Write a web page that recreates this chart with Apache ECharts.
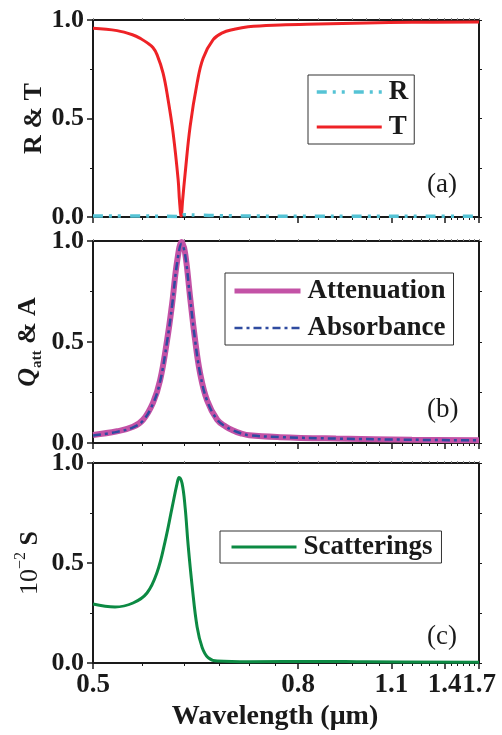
<!DOCTYPE html>
<html><head><meta charset="utf-8">
<script src="https://cdn.jsdelivr.net/npm/echarts@6/dist/echarts.min.js"></script>
<style>html,body{margin:0;padding:0;background:#fff}#c{width:502px;height:735px}</style>
</head><body><div id="c"></div>
<script>
// ---- data (wavelength in µm) ----
const wlT  = [0.500,0.523,0.5395,0.548,0.5548,0.5615,0.5664,0.5735,0.5796,0.5858,0.5922,0.594,0.5961,0.598,0.6013,0.608,0.6176,0.6261,0.6408,0.655,0.6724,0.6981,0.76,0.85,1.0,1.2,1.7];
const valT = [0.958,0.946,0.924,0.905,0.885,0.860,0.823,0.730,0.595,0.427,0.190,0.080,0.005,0.085,0.220,0.460,0.680,0.806,0.900,0.935,0.952,0.966,0.975,0.980,0.985,0.988,0.990];
const wlR  = [0.50,0.55,0.59,0.596,0.60,0.62,0.65,0.70,0.80,1.0,1.3,1.7];
const valR = [0.005,0.005,0.003,0.005,0.011,0.009,0.007,0.005,0.004,0.004,0.004,0.004];
const wlB    = [0.500,0.523,0.5395,0.5504,0.5617,0.5699,0.5784,0.5846,0.5909,0.5968,0.6013,0.608,0.6148,0.6218,0.6319,0.6469,0.660,0.6724,0.685,0.70,0.76,0.90,1.2,1.7];
const valAtt = [0.040,0.058,0.080,0.115,0.200,0.310,0.510,0.690,0.900,0.995,0.940,0.720,0.510,0.345,0.210,0.115,0.082,0.062,0.048,0.038,0.029,0.022,0.016,0.013];
const valAbs = [0.037,0.055,0.077,0.111,0.195,0.304,0.503,0.682,0.891,0.986,0.932,0.715,0.508,0.344,0.209,0.115,0.082,0.062,0.048,0.038,0.029,0.022,0.016,0.013];
const wlC    = [0.500,0.521,0.5395,0.5548,0.5664,0.5759,0.5846,0.5909,0.5934,0.5973,0.6013,0.6053,0.6107,0.6176,0.6247,0.6333,0.6469,0.70,0.85,1.0,1.7];
const valSca = [0.295,0.280,0.300,0.350,0.454,0.607,0.778,0.898,0.928,0.898,0.778,0.590,0.386,0.180,0.078,0.027,0.010,0.006,0.008,0.006,0.004];
const xMajorTicks = [0.5,0.8,1.1,1.4,1.7];
const xMinorTicks = [0.55,0.6,0.65,0.7,0.75,0.85,0.9,0.95,1.0,1.05,1.15,1.2,1.25,1.3,1.35,1.45,1.5,1.55,1.6,1.65];
const xName = 'Wavelength (\u03bcm)';
const panelLabels = ['(a)','(b)','(c)'];

// ---- helpers ----
const FONT = '"Liberation Serif","Times New Roman",serif';
const INK = '#1a1a1a';
const inv = v => 1 / v;
const pairs = (xs, ys) => xs.map((x, i) => [inv(x), ys[i]]);
const XMIN = inv(1.7), XMAX = inv(0.5);

const grids = [
  {left: 93, top: 20, width: 386, height: 197},
  {left: 93, top: 241, width: 386, height: 202},
  {left: 93, top: 463, width: 386, height: 200}
];

const xAxes = [], yAxes = [];
grids.forEach((g, i) => {
  const last = i === 2;
  xAxes.push({
    gridIndex: i, type: 'value', min: XMIN, max: XMAX, inverse: true, position: 'bottom',
    splitLine: {show: false},
    axisLine: {show: true, onZero: false, lineStyle: {color: INK, width: 2}},
    axisTick: {show: true, inside: false, length: 6, customValues: xMajorTicks.map(inv), lineStyle: {color: INK, width: 1.5}},
    axisLabel: {show: last, customValues: xMajorTicks.map(inv), showMinLabel: true, showMaxLabel: true,
      formatter: v => (1 / v).toFixed(1), margin: 9,
      fontFamily: FONT, fontWeight: 'bold', fontSize: 27, color: INK},
    name: last ? xName : '', nameLocation: 'middle', nameGap: 40, nameMoveOverlap: false,
    nameTextStyle: {fontFamily: FONT, fontWeight: 'bold', fontSize: 28, color: INK, padding: [0, 22, 0, 0]}
  });
  xAxes.push({
    gridIndex: i, type: 'value', min: XMIN, max: XMAX, inverse: true, position: 'bottom',
    splitLine: {show: false}, axisLine: {show: false, onZero: false},
    axisTick: {show: true, inside: false, length: 3, customValues: xMinorTicks.map(inv), lineStyle: {color: INK, width: 1}},
    axisLabel: {show: false}
  });
  xAxes.push({
    gridIndex: i, type: 'value', min: XMIN, max: XMAX, inverse: true, position: 'top',
    splitLine: {show: false},
    axisLine: {show: true, onZero: false, lineStyle: {color: INK, width: 2}},
    axisTick: {show: true, inside: false, length: 2, customValues: xMajorTicks.concat(xMinorTicks).map(inv), lineStyle: {color: '#888', width: 1}},
    axisLabel: {show: false}
  });
  yAxes.push({
    gridIndex: i, type: 'value', min: 0, max: 1, interval: 0.5, position: 'left',
    splitLine: {show: false},
    axisLine: {show: true, onZero: false, lineStyle: {color: INK, width: 2}},
    axisTick: {show: true, length: 6, lineStyle: {color: INK, width: 1.5}},
    minorTick: {show: true, splitNumber: 2, length: 3, lineStyle: {color: INK, width: 1}},
    axisLabel: {formatter: v => v.toFixed(1), margin: 9, fontFamily: FONT, fontWeight: 'bold', fontSize: 26, color: INK},
    nameLocation: 'middle', nameGap: 46, nameMoveOverlap: false,
    nameTextStyle: {fontFamily: FONT, fontWeight: 'bold', fontSize: 26, color: INK}
  });
  yAxes.push({
    gridIndex: i, type: 'value', min: 0, max: 1, interval: 0.5, position: 'right',
    splitLine: {show: false},
    axisLine: {show: true, onZero: false, lineStyle: {color: INK, width: 2}},
    axisTick: {show: true, length: 3, lineStyle: {color: INK, width: 1}},
    minorTick: {show: true, splitNumber: 2, length: 3, lineStyle: {color: INK, width: 1}},
    axisLabel: {show: false}
  });
});
yAxes[0].name = 'R & T';
yAxes[2].name = '{q|Q}{sub|att}{m| & A}';
yAxes[2].nameGap = 48;
yAxes[2].nameTextStyle.rich = {
  q: {fontFamily: FONT, fontWeight: 'bold', fontStyle: 'italic', fontSize: 26, color: INK, lineHeight: 34, verticalAlign: 'middle'},
  sub: {fontFamily: FONT, fontWeight: 'bold', fontSize: 15, color: INK, lineHeight: 15, verticalAlign: 'bottom'},
  m: {fontFamily: FONT, fontWeight: 'bold', fontSize: 26, color: INK, lineHeight: 34, verticalAlign: 'middle'}
};
yAxes[4].name = '{n|10}{sup|\u22122}{s| S}';
yAxes[4].nameGap = 46;
yAxes[4].nameTextStyle.rich = {
  n: {fontFamily: FONT, fontWeight: 'normal', fontSize: 26, color: INK, lineHeight: 34, verticalAlign: 'middle'},
  sup: {fontFamily: FONT, fontWeight: 'normal', fontSize: 16, color: INK, lineHeight: 16, verticalAlign: 'top'},
  s: {fontFamily: FONT, fontWeight: 'bold', fontSize: 26, color: INK, lineHeight: 34, verticalAlign: 'middle'}
};

const lineSeries = (name, xi, yi, data, color, width, type, z) => ({
  name, type: 'line', xAxisIndex: xi, yAxisIndex: yi, data,
  showSymbol: false, symbol: 'none', smooth: 0.4, z: z || 2,
  lineStyle: {color, width, type: type || 'solid'}, itemStyle: {color}
});

const series = [
  lineSeries('R', 0, 0, pairs(wlR, valR), '#55c3d5', 3.5, [10, 6, 3, 6, 3, 9], 3),
  lineSeries('T', 0, 0, pairs(wlT, valT), '#ee2226', 3),
  lineSeries('Attenuation', 3, 2, pairs(wlB, valAtt), '#c352a6', 6),
  lineSeries('Absorbance', 3, 2, pairs(wlB, valAbs), '#2f4ba0', 2.5, [8, 4, 3, 4], 3),
  lineSeries('Scatterings', 6, 4, pairs(wlC, valSca), '#0c8a43', 3)
];

const legendBase = {
  orient: 'vertical', itemWidth: 65, itemHeight: 14,
  itemStyle: {opacity: 0, borderWidth: 0},
  borderColor: '#333', borderWidth: 1, borderRadius: 0, backgroundColor: '#fff',
  selectedMode: false,
  textStyle: {fontFamily: FONT, fontWeight: 'bold', fontSize: 27, color: INK, lineHeight: 30, padding: [0, 0, 0, 2]}
};
const legends = [
  Object.assign({}, legendBase, {data: [{name: 'R', lineStyle: {width: 3.5}}, {name: 'T', lineStyle: {width: 3}}],
    left: 308, top: 75, padding: [2, 6, 2, 7], itemGap: 5}),
  Object.assign({}, legendBase, {data: [{name: 'Attenuation', lineStyle: {width: 5}}, {name: 'Absorbance', lineStyle: {width: 2.5}}],
    left: 225, top: 273, padding: [3, 8, 2, 7], itemGap: 7, itemWidth: 66}),
  Object.assign({}, legendBase, {data: [{name: 'Scatterings', lineStyle: {width: 3}}],
    left: 220, top: 531, padding: [1, 9, 1, 10], itemGap: 5})
];

const titleTops = [171, 396, 623];
const titles = panelLabels.map((t, i) => ({
  text: t, left: 427, top: titleTops[i], padding: 0,
  textStyle: {fontFamily: FONT, fontWeight: 'normal', fontSize: 27, lineHeight: 27, color: INK}
}));

const chart = echarts.init(document.getElementById('c'), null, {renderer: 'canvas'});
chart.setOption({
  animation: false,
  backgroundColor: '#fff',
  title: titles,
  grid: grids,
  xAxis: xAxes,
  yAxis: yAxes,
  legend: legends,
  series
});
</script>
</body></html>
